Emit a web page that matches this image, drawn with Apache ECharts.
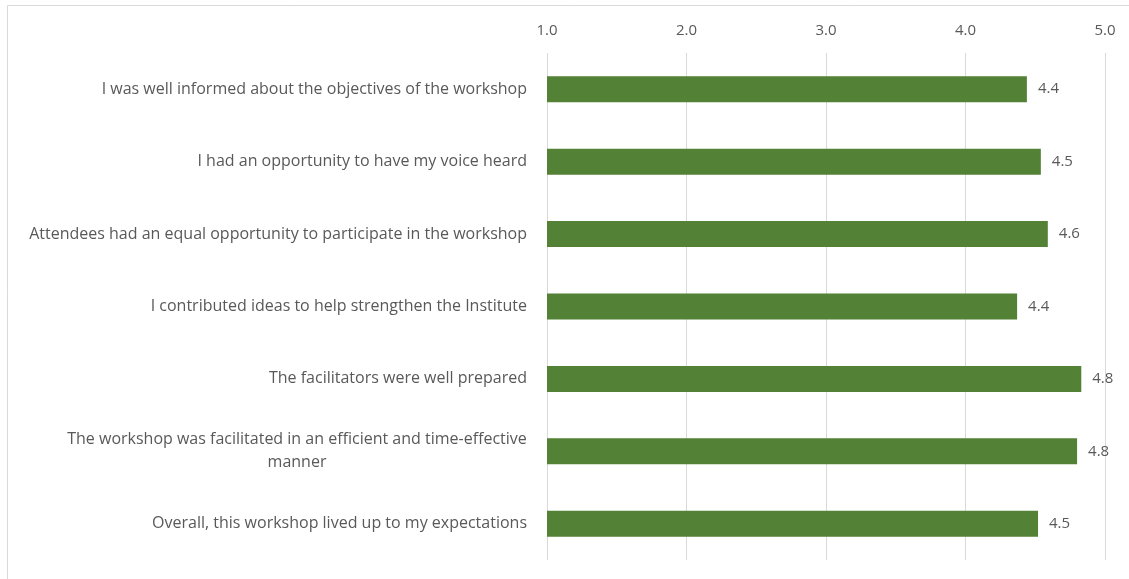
<!DOCTYPE html>
<html>
<head>
<meta charset="utf-8">
<script src="https://cdn.jsdelivr.net/npm/echarts@6/dist/echarts.min.js"></script>
<style>
  html, body { margin: 0; padding: 0; background: #fff; }
  #chart { width: 1129px; height: 579px; }
</style>
</head>
<body>
<div id="chart"></div>
<script>
// survey items, top to bottom
var categories = [
  "I was well informed about the objectives of the workshop",
  "I had an opportunity to have my voice heard",
  "Attendees had an equal opportunity to participate in the workshop",
  "I contributed ideas to help strengthen the Institute",
  "The facilitators were well prepared",
  "The workshop was facilitated in an efficient and time-effective\nmanner",
  "Overall, this workshop lived up to my expectations"
];
var scores = [4.44, 4.54, 4.59, 4.37, 4.83, 4.80, 4.52];
var tickMin = 1, tickMax = 5, tickStep = 1;

var FONT = "Open Sans";
var chart = echarts.init(document.getElementById("chart"));

// measure label lines so the wrapped one is centred as a block
var ctx = document.createElement("canvas").getContext("2d");
ctx.font = "16px '" + FONT + "'";
function textW(s) { return Math.ceil(ctx.measureText(s).width); }

var option = {
  animation: false,
  graphic: [{
    type: "rect",
    shape: { x: 7.5, y: 5.5, width: 1200, height: 700 },
    style: { fill: null, stroke: "#d9d9d9", lineWidth: 1 },
    silent: true
  }],
  grid: { left: 547, right: 24, top: 53, bottom: 19 },
  xAxis: {
    type: "value",
    position: "top",
    min: tickMin,
    max: tickMax,
    interval: tickStep,
    axisLine: { show: false },
    axisTick: { show: false },
    splitLine: { lineStyle: { color: "#d9d9d9", width: 1 } },
    axisLabel: {
      color: "#595959",
      fontFamily: FONT,
      fontSize: 15,
      margin: 15,
      formatter: function (v) { return v.toFixed(1); }
    }
  },
  yAxis: {
    type: "category",
    inverse: true,
    data: categories,
    axisLine: { show: false },
    axisTick: { show: false },
    axisLabel: {
      color: "#595959",
      fontFamily: FONT,
      fontSize: 16,
      margin: 20,
      lineHeight: 23,
      formatter: function (v) {
        var lines = v.split("\n");
        if (lines.length < 2) return v;
        return lines.map(function (l) { return "{c|" + l + "}"; }).join("\n");
      },
      rich: {
        c: {
          color: "#595959",
          fontFamily: FONT,
          fontSize: 16,
          lineHeight: 23,
          align: "center",
          width: textW(categories[5].split("\n")[0])
        }
      }
    }
  },
  series: [{
    type: "bar",
    data: scores,
    barWidth: 26,
    itemStyle: { color: "#538135" },
    label: {
      show: true,
      position: "right",
      distance: 11,
      color: "#595959",
      fontFamily: FONT,
      fontSize: 15,
      formatter: function (p) { return p.value.toFixed(1); }
    }
  }]
};
chart.setOption(option);
</script>
</body>
</html>
